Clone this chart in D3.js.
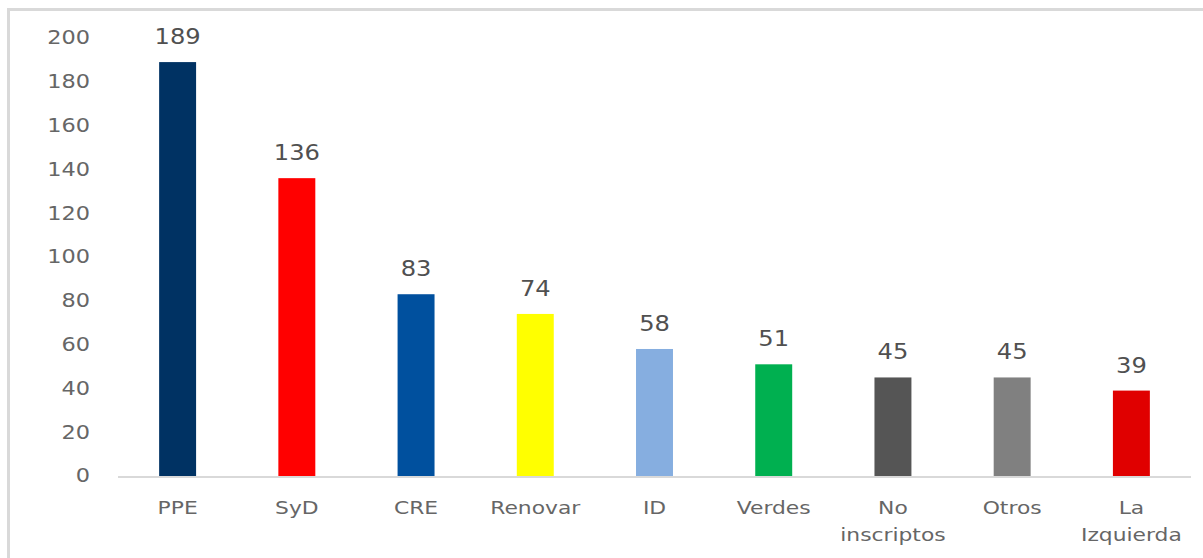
<!DOCTYPE html>
<html>
<head>
<meta charset="utf-8">
<script src="https://cdn.jsdelivr.net/npm/d3@7"></script>
<style>
  body { margin: 0; background: #fff; }
  svg { display: block; }
  text { font-family: "DejaVu Sans", sans-serif; fill: #666666; }
</style>
</head>
<body>
<svg id="chart" width="1203" height="558"></svg>
<script>
const categories = ['PPE', 'SyD', 'CRE', 'Renovar', 'ID', 'Verdes', 'No inscriptos', 'Otros', 'La Izquierda'];
const seats = [189, 136, 83, 74, 58, 51, 45, 45, 39];
const colors = ['#003263', '#ff0000', '#00509e', '#ffff00', '#86aee0', '#00b050', '#555555', '#808080', '#e00000'];
const yTicks = [0, 20, 40, 60, 80, 100, 120, 140, 160, 180, 200];

const data = categories.map((c, i) => ({ name: c, value: seats[i], color: colors[i] }));

const svg = d3.select('#chart');
const margin = { top: 38, right: 12, bottom: 82, left: 118 };
const width = 1203 - margin.left - margin.right;
const height = 558 - margin.top - margin.bottom;
const stretch = 1.18; // the reference text is drawn horizontally stretched

// outer frame
svg.append('rect')
  .attr('x', 8.5).attr('y', 9.5)
  .attr('width', 1220).attr('height', 580)
  .attr('fill', 'none')
  .attr('stroke', '#d9d9d9')
  .attr('stroke-width', 3);

const g = svg.append('g').attr('transform', `translate(${margin.left},${margin.top})`);

const x = d3.scaleBand()
  .domain(categories)
  .range([0, width])
  .paddingInner(0.69)
  .paddingOuter(0.345);

const y = d3.scaleLinear().domain([0, 200]).range([height, 0]);

// y tick labels (no axis line, like the reference)
g.selectAll('.ytick')
  .data(yTicks)
  .enter()
  .append('text')
  .attr('class', 'ytick')
  .attr('text-anchor', 'end')
  .attr('dominant-baseline', 'central')
  .attr('transform', (d) => `translate(-28,${y(d)}) scale(${stretch},1)`)
  .style('font-size', '19px')
  .text((d) => d);

g.selectAll('rect.bar')
  .data(data)
  .enter()
  .append('rect')
  .attr('class', 'bar')
  .attr('x', (d) => x(d.name))
  .attr('y', (d) => y(d.value))
  .attr('width', x.bandwidth())
  .attr('height', (d) => y(0) - y(d.value))
  .attr('fill', (d) => d.color);

// baseline
g.append('line')
  .attr('x1', 0).attr('x2', width)
  .attr('y1', y(0) + 1).attr('y2', y(0) + 1)
  .attr('stroke', '#d9d9d9')
  .attr('stroke-width', 2);

// value labels
g.selectAll('.val')
  .data(data)
  .enter()
  .append('text')
  .attr('class', 'val')
  .attr('text-anchor', 'middle')
  .attr('transform', (d) => `translate(${x(d.name) + x.bandwidth() / 2},${y(d.value) - 18}) scale(${stretch},1)`)
  .style('font-size', '20.5px')
  .style('fill', '#505050')
  .text((d) => d.value);

// category labels, wrapped to two lines where needed
const cat = g.selectAll('.cat')
  .data(data)
  .enter()
  .append('text')
  .attr('class', 'cat')
  .attr('text-anchor', 'middle')
  .attr('transform', (d) => `translate(${x(d.name) + x.bandwidth() / 2},${height + 38}) scale(${stretch},1)`)
  .style('font-size', '18.5px');

cat.selectAll('tspan')
  .data((d) => d.name.split(' ').length > 1 && d.name.length > 8
    ? [d.name.split(' ')[0], d.name.split(' ').slice(1).join(' ')]
    : [d.name])
  .enter()
  .append('tspan')
  .attr('x', 0)
  .attr('dy', (d, i) => (i === 0 ? 0 : 27))
  .text((d) => d);
</script>
</body>
</html>
